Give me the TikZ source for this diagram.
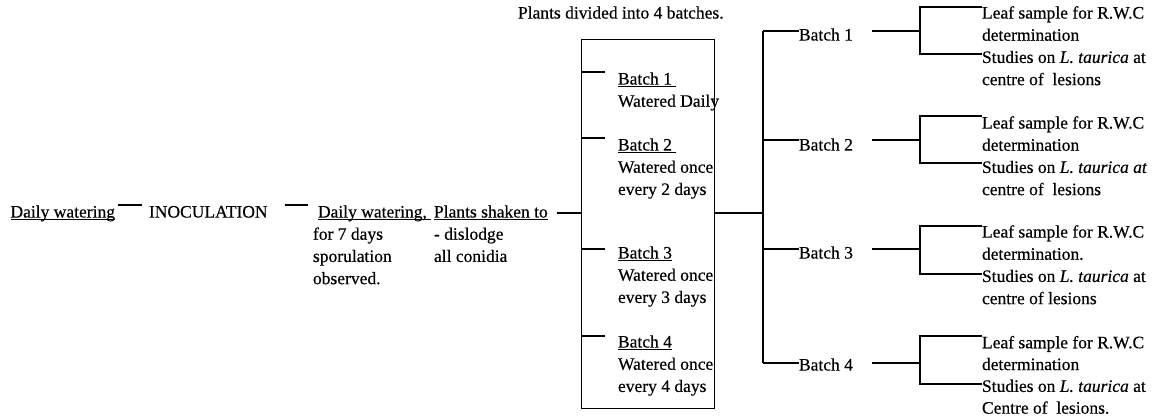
\documentclass[tikz,border=0pt]{standalone}
\usepackage{fontspec}
\setmainfont{Liberation Serif}[FakeBold=0.4,ItalicFeatures={FakeBold=0.4}]
\newcommand\txtsize{\fontsize{17.5}{22.2}\selectfont}
% underline at a fixed depth below the baseline, as a typewriter-style rule
\newcommand\uln[1]{\setbox0\hbox{#1}\rlap{\vrule height -1.6pt depth 2.7pt width \wd0}\box0}
\begin{document}
\begin{tikzpicture}[x=1pt,y=-1pt,
  txt/.style={inner sep=0pt, outer sep=0pt, anchor=north west, align=left, font=\txtsize},
  link/.style={draw=black, line width=1.25pt},
  frame/.style={draw=black, line width=1.25pt, inner sep=0pt, anchor=north west}]
\useasboundingbox (0,0) rectangle (1160,418);
% node tops sit 10pt above the visual centre of their first line
% ---- left chain
\node[txt] (dw1) at (10.5,202) {\strut\uln{Daily watering}};
\node[txt] (inoc) at (149,202) {\strut INOCULATION};
\node[txt] (dw2) at (313,202) {\strut\hspace{5pt}\uln{Daily watering,\ }\\for 7 days\\sporulation\\observed.};
\node[txt] (shk) at (434,202) {\strut\uln{Plants shaken to}\\- dislodge\\all conidia};
\node[txt] (head) at (518,3) {\strut Plants divided into 4 batches.};
\coordinate (l1a) at (118,205); \coordinate (l1b) at (142,205);
\coordinate (l2a) at (285,205); \coordinate (l2b) at (308,205);
\coordinate (l3a) at (557,213);
\draw[link] (l1a) -- (l1b);
\draw[link] (l2a) -- (l2b);
% ---- batch box
\node[frame, minimum width=133pt, minimum height=369pt] (box) at (581,39) {};
\draw[link] (l3a) -- (l3a -| box.west);
\node[txt] (w1) at (618,69) {\strut\uln{Batch 1\ }\\Watered Daily};
\node[txt] (w2) at (618,135) {\strut\uln{Batch 2\ }\\Watered once\\every 2 days};
\node[txt] (w3) at (618,243) {\strut\uln{Batch 3}\\Watered once\\every 3 days};
\node[txt] (w4) at (618,332) {\strut\uln{Batch 4}\\Watered once\\every 4 days};
\foreach \yy/\nn in {72/1,138/2,249/3,336/4}{
  \coordinate (t\nn) at (605,\yy);
  \draw[link] (t\nn -| box.west) -- (t\nn);
}
% ---- trunk to the four batches
\coordinate (tr) at (763,213);
\coordinate (trtop) at (763,31);
\coordinate (trbot) at (763,363);
\draw[link] (tr -| box.east) -- (tr);
\draw[link] (trtop) -- (trbot);
\node[txt] (b1) at (799,25) {\strut Batch 1};
\node[txt] (b2) at (799,135) {\strut Batch 2};
\node[txt] (b3) at (799,243) {\strut Batch 3};
\node[txt] (b4) at (799,355) {\strut Batch 4};
\foreach \yy/\nn in {31/1,140/2,249/3,363/4}{
  \coordinate (k\nn) at (763,\yy);
  \draw[link] (k\nn) -- (k\nn -| b\nn.west);
  \coordinate (s\nn) at (872,\yy);
  \coordinate (e\nn) at (920,\yy);
  \draw[link] (s\nn) -- (e\nn);
}
% ---- outcome brackets
\node[txt] (r1) at (982,3) {\strut Leaf sample for R.W.C\\determination\\Studies on \textit{L. taurica} at\\centre of\ \ lesions};
\node[txt] (r2) at (982,113) {\strut Leaf sample for R.W.C\\determination\\Studies on \textit{L. taurica at}\\centre of\ \ lesions};
\node[txt] (r3) at (982,222) {\strut Leaf sample for R.W.C\\determination.\\Studies on \textit{L. taurica} at\\centre of lesions};
\node[txt, font=\fontsize{17.5}{21.8}\selectfont] (r4) at (982,333) {\strut Leaf sample for R.W.C\\determination\\Studies on \textit{L. taurica} at\\Centre of\ \ lesions.};
\foreach \nn/\ta/\tb in {1/7/54,2/116/163,3/226/274,4/336/384}{
  \coordinate (u\nn) at (920,\ta);
  \coordinate (v\nn) at (920,\tb);
  \draw[link] (u\nn -| r\nn.west) -- (u\nn) -- (v\nn) -- (v\nn -| r\nn.west);
}
\end{tikzpicture}
\end{document}
